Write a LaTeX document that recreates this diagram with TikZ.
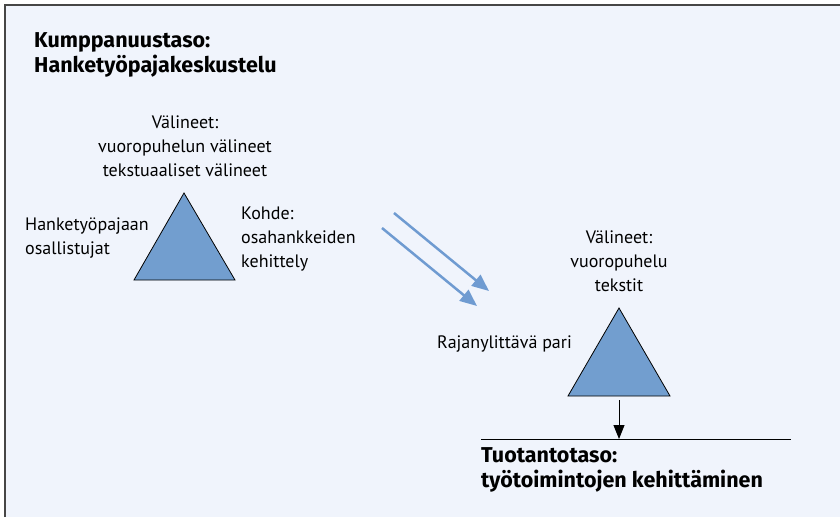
\documentclass[tikz,border=0pt]{standalone}
\usepackage{fontspec}
\setmainfont{PT Sans}
\newfontfamily\headfont{Fira Sans}
\usetikzlibrary{arrows.meta}
\begin{document}
\begin{tikzpicture}[x=1pt,y=-1pt]
\definecolor{bgcolor}{RGB}{240,244,252}
\definecolor{framecolor}{RGB}{70,70,70}
\definecolor{tricolor}{RGB}{114,158,207}
\definecolor{flowcolor}{RGB}{111,155,209}
\tikzstyle{plaintext}=[inner sep=0pt,font=\fontsize{18}{24}\selectfont,align=center]
\tikzstyle{lefttext}=[plaintext,align=left]
\tikzstyle{headtext}=[lefttext,font=\headfont\fontsize{21.5}{25}\selectfont\bfseries]
\tikzstyle{triangle}=[draw=black,fill=tricolor,line width=0.8pt]
\tikzstyle{flow}=[flowcolor,line width=2.5pt,-{Triangle[length=17pt,width=14pt]}]
\tikzstyle{down}=[black,line width=1pt,-{Triangle[length=14pt,width=11pt]}]
\useasboundingbox (0,0) rectangle (840,517);
\fill[bgcolor] (4,4) rectangle (840,517);
\draw[framecolor,line width=1.8pt] (4.8,517) -- (4.8,4.8) -- (840,4.8);
% upper level
\node[headtext,anchor=base west] (upper) at (34,72) {Kumppanuustaso:\\Hanketyöpajakeskustelu};
\node[plaintext,anchor=base] (tools1) at (185,176) {Välineet:\\vuoropuhelun välineet\\tekstuaaliset välineet};
\node[lefttext,anchor=base west] (subject1) at (25,254) {Hanketyöpajaan\\osallistujat};
\node[lefttext,anchor=base west] (object1) at (241,267) {Kohde:\\osahankkeiden\\kehittely};
\coordinate (t1a) at (184,193);
\coordinate (t1b) at (134,280);
\coordinate (t1c) at (235,280);
\draw[triangle] (t1a) -- (t1b) -- (t1c) -- cycle;
% transfer
\coordinate (f1s) at (394,213);
\coordinate (f1e) at (489,291);
\coordinate (f2s) at (382,228);
\coordinate (f2e) at (477,306);
\draw[flow] (f1s) -- (f1e);
\draw[flow] (f2s) -- (f2e);
% lower level
\node[plaintext,anchor=base] (tools2) at (619,291) {Välineet:\\vuoropuhelu\\tekstit};
\node[lefttext,anchor=base west] (pair) at (437,348) {Rajanylittävä pari};
\coordinate (t2a) at (619,308);
\coordinate (t2b) at (568,396);
\coordinate (t2c) at (670,396);
\draw[triangle] (t2a) -- (t2b) -- (t2c) -- cycle;
\coordinate (lineL) at (481,439);
\coordinate (lineR) at (791,439);
\draw[black,line width=0.9pt] (lineL) -- (lineR);
\coordinate (downs) at (619,400);
\coordinate (downe) at (619,439);
\draw[down] (downs) -- (downe);
\node[headtext,anchor=base west] (lower) at (481,487) {Tuotantotaso:\\työtoimintojen kehittäminen};
\end{tikzpicture}
\end{document}
